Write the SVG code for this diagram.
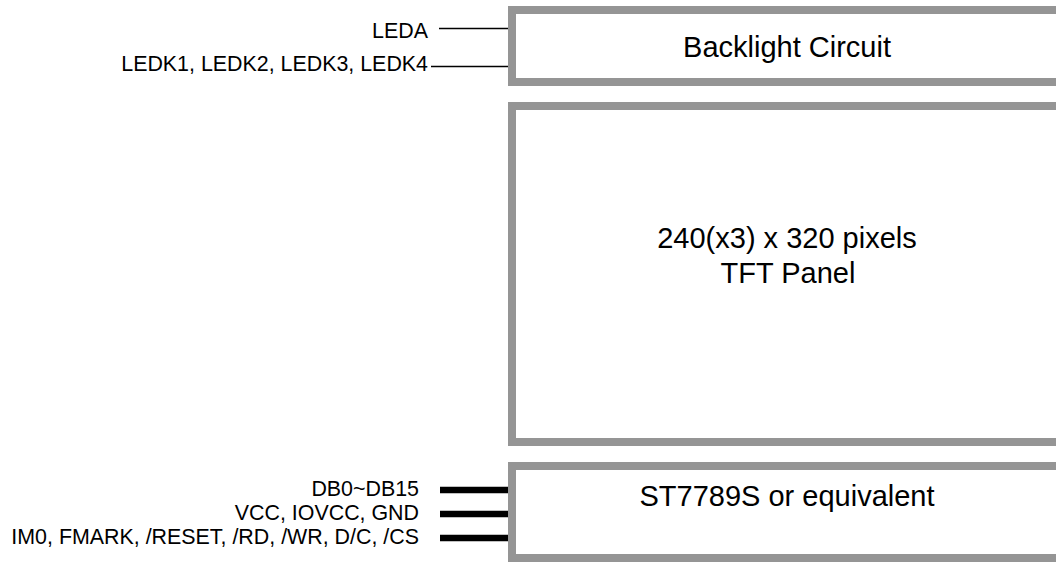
<svg xmlns="http://www.w3.org/2000/svg" width="1056" height="562" viewBox="0 0 1056 562">
<style>
.box{fill:#fff;stroke:#959595;stroke-width:8}
.t{font-family:"Liberation Sans",Arial,sans-serif;fill:#000}
.title{font-size:29px;text-anchor:middle}
.lbl{font-size:21.4px;text-anchor:end}
.thin{stroke:#000;stroke-width:1.5}
.bus{stroke:#000;stroke-width:6.5}
</style>
<rect width="1056" height="562" fill="#fff"/>
<g id="backlight">
<rect class="box" x="512" y="10" width="560" height="72"/>
<text class="t title" x="787" y="57">Backlight Circuit</text>
</g>
<g id="tft">
<rect class="box" x="512" y="106" width="560" height="336"/>
<text class="t title" x="787" y="248">240(x3) x 320 pixels</text>
<text class="t title" x="788" y="283">TFT Panel</text>
</g>
<g id="driver">
<rect class="box" x="512" y="466" width="560" height="92"/>
<text class="t title" x="787" y="506">ST7789S or equivalent</text>
</g>
<g id="labels">
<text class="t lbl" x="428" y="38">LEDA</text>
<text class="t lbl" x="428" y="71">LEDK1, LEDK2, LEDK3, LEDK4</text>
<text class="t lbl" x="419" y="496">DB0~DB15</text>
<text class="t lbl" x="419" y="520">VCC, IOVCC, GND</text>
<text class="t lbl" x="419" y="544">IM0, FMARK, /RESET, /RD, /WR, D/C, /CS</text>
</g>
<g id="connectors">
<line class="thin" x1="439" y1="28.5" x2="508" y2="28.5"/>
<line class="thin" x1="431" y1="66.5" x2="508" y2="66.5"/>
<line class="bus" x1="440" y1="490" x2="508" y2="490"/>
<line class="bus" x1="440" y1="514" x2="508" y2="514"/>
<line class="bus" x1="440" y1="538" x2="508" y2="538"/>
</g>
</svg>
